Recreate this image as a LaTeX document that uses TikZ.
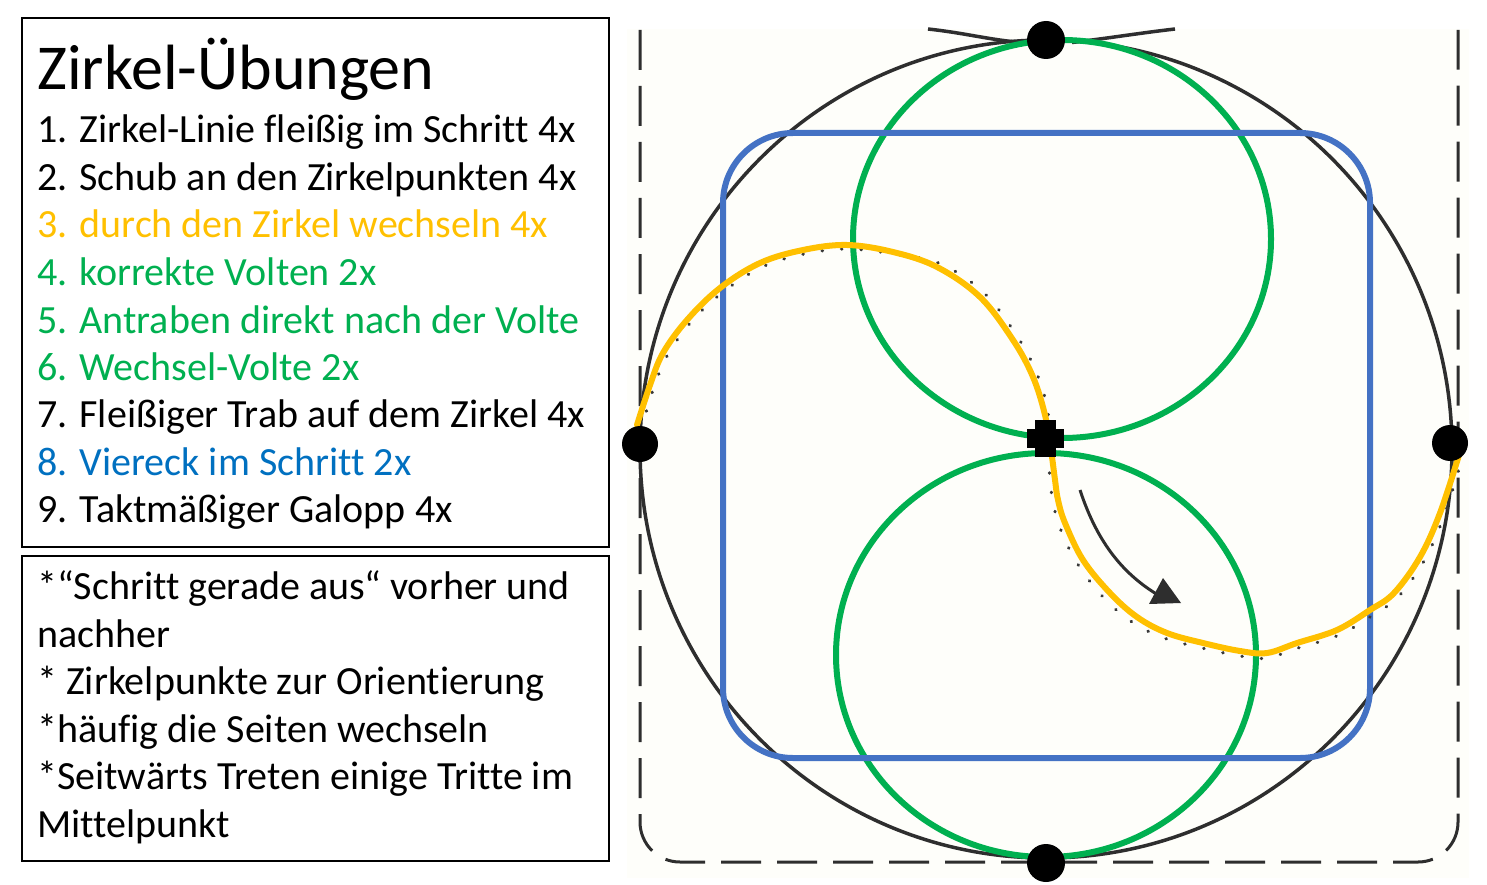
\documentclass[tikz,border=0pt]{standalone}
\usepackage{fontspec}
\setmainfont[Ligatures={NoCommon}]{Carlito}
\usetikzlibrary{arrows.meta}
\definecolor{orng}{HTML}{FFC000}
\definecolor{grn}{HTML}{00B050}
\definecolor{txtblue}{HTML}{0070C0}
\definecolor{boxblue}{HTML}{4472C4}
\definecolor{ink}{HTML}{2E2E2E}
\definecolor{paper}{HTML}{FEFEFA}
\begin{document}
\begin{tikzpicture}[x=1pt,y=-1pt,
  boxline/.style={draw=black,line width=2pt},
  titletext/.style={anchor=base west,inner sep=0pt,font=\fontsize{64}{70}\selectfont},
  itemtext/.style={anchor=base west,inner sep=0pt,font=\fontsize{40}{48}\selectfont},
  arena/.style={draw=ink,line width=3pt,dash pattern=on 40pt off 16pt,rounded corners=40pt},
  ring/.style={draw=ink,line width=3.5pt},
  volte/.style={draw=grn,line width=6pt},
  square/.style={draw=boxblue,line width=6pt,rounded corners=70pt},
  track/.style={draw=orng,line width=6pt,line cap=round},
  trackdots/.style={draw=gray!45!black,line width=3.2pt,line cap=round,dash pattern=on 0.5pt off 19pt},
  pointmark/.style={fill=black}]
\useasboundingbox (0,0) rectangle (1487,885);
\fill[white] (0,0) rectangle (1487,885);
% scanned arena background
\fill[paper] (627,29) rectangle (1469,878);

% ---------- text boxes ----------
\draw[boxline] (22,18) rectangle (609,547);
\draw[boxline] (22,556) rectangle (609,861);

\node[titletext] (title) at (37,90) {Zirkel-Übungen};
\node[itemtext] (i1) at (37,143) {1. Zirkel-Linie fleißig im Schritt 4x};
\node[itemtext] (i2) at (37,190.5) {2. Schub an den Zirkelpunkten 4x};
\node[itemtext,text=orng] (i3) at (37,238) {3. durch den Zirkel wechseln 4x};
\node[itemtext,text=grn] (i4) at (37,285.5) {4. korrekte Volten 2x};
\node[itemtext,text=grn] (i5) at (37,333) {5. Antraben direkt nach der Volte};
\node[itemtext,text=grn] (i6) at (37,380) {6. Wechsel-Volte 2x};
\node[itemtext] (i7) at (37,427.5) {7. Fleißiger Trab auf dem Zirkel 4x};
\node[itemtext,text=txtblue] (i8) at (37,475) {8. Viereck im Schritt 2x};
\node[itemtext] (i9) at (37,522) {9. Taktmäßiger Galopp 4x};

\node[itemtext] (n1) at (37,599) {*“Schritt gerade aus“ vorher und};
\node[itemtext] (n2) at (37,647) {nachher};
\node[itemtext] (n3) at (37,694) {* Zirkelpunkte zur Orientierung};
\node[itemtext] (n4) at (37,742) {*häufig die Seiten wechseln};
\node[itemtext] (n5) at (37,789) {*Seitwärts Treten einige Tritte im};
\node[itemtext] (n6) at (37,837) {Mittelpunkt};

% ---------- arena ----------
\draw[arena] (640,30) -- (640,862) -- (1458,862) -- (1458,30);
\draw[ring] (1046,449) ellipse [x radius=406pt, y radius=409pt];
\draw[ring] (928,29) .. controls (965,33) and (990,40) .. (1022,42.5);
\draw[ring] (1072,42.5) .. controls (1110,38) and (1140,33) .. (1175,29);

% Volten
\draw[volte] (1062,239) ellipse [x radius=209pt, y radius=199pt];
\draw[volte] (1046,655) ellipse [x radius=210pt, y radius=202pt];

% Viereck
\draw[square] (723,133) rectangle (1370,758);

% change through the circle
\draw[trackdots] plot[smooth,tension=0.6] coordinates {(641,430) (653,390) (667,356) (691,322) (723,292) (762,267) (804,254) (847,249) (894,254) (941,264) (984,293) (1017,336) (1037,374) (1048,413) (1049,460) (1051,490) (1059,525) (1077,563) (1104,598) (1132,622) (1164,638) (1202,648) (1240,656) (1267,658) (1298,648) (1339,635) (1373,615) (1398,597) (1424,561) (1444,516) (1461,462)};
\draw[track] plot[smooth,tension=0.6] coordinates {(637,425) (650,385) (663,353) (687,320) (720,288) (760,263) (803,250) (847,245) (893,252) (937,267) (980,297) (1013,340) (1033,377) (1045,415) (1051,450) (1055,480) (1058,500) (1065,523) (1083,560) (1110,593) (1137,617) (1167,633) (1203,643) (1240,651) (1267,653) (1297,643) (1337,630) (1370,610) (1394,593) (1420,557) (1440,513) (1459,455)};

% direction arrow
\draw[ink,line width=3pt] (1080,490) .. controls (1098,545) and (1125,575) .. (1158,595);
\fill[ink] (1163,578) -- (1149,604) -- (1181,603) -- cycle;

% centre mark
\fill[pointmark] (1027,429) rectangle (1064,448);
\fill[pointmark] (1035,420) rectangle (1056,457);

% circle points
\fill[pointmark] (1046,40) circle [radius=19pt];
\fill[pointmark] (640,444) circle [radius=18pt];
\fill[pointmark] (1450,443) circle [radius=18pt];
\fill[pointmark] (1046,863) circle [radius=19pt];
\end{tikzpicture}
\end{document}
